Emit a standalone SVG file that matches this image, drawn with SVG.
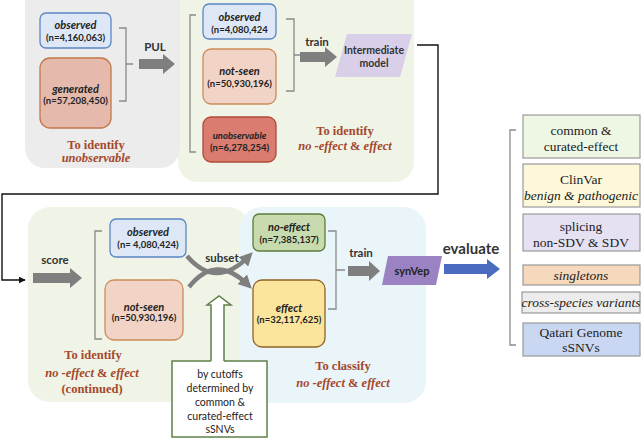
<svg xmlns="http://www.w3.org/2000/svg" width="642" height="438" viewBox="0 0 642 438">
<defs>
<style>
.sans{font-family:Lato,"Liberation Sans",sans-serif;fill:#222;text-anchor:middle}
.t1{font-size:11px;font-weight:bold;font-style:italic}
.t2{font-size:9.5px;font-weight:bold}
.lbl{font-family:Lato,"Liberation Sans",sans-serif;font-size:11.5px;font-weight:bold;fill:#333;text-anchor:middle}
.brown{font-family:"Liberation Serif",serif;font-size:12.5px;font-weight:bold;fill:#a5482c;text-anchor:middle}
.it{font-style:italic}
.rb{font-family:"Liberation Serif",serif;font-size:13.5px;fill:#222;text-anchor:middle}
.brk{fill:none;stroke:#8a8a8a;stroke-width:1.3}
.garrow{fill:#7f7f7f}
.rbox{stroke:#9a9a9a;stroke-width:1.2}
.conn{fill:none;stroke:#111;stroke-width:1.4}
.curve{fill:none;stroke:#7f7f7f;stroke-width:4.5}
</style>
<marker id="ah" viewBox="0 0 10 10" refX="9" refY="5" markerWidth="7" markerHeight="7" markerUnits="userSpaceOnUse" orient="auto"><path d="M0,0 L10,5 L0,10 z" fill="#111"/></marker>
<marker id="gh" viewBox="0 0 10 10" refX="6" refY="5" markerWidth="3" markerHeight="3" orient="auto"><path d="M0,0 L10,5 L0,10 z" fill="#7f7f7f"/></marker>
</defs>

<!-- panels -->
<g id="panels">
<rect x="178" y="-20" width="236" height="202" rx="20" fill="#eff4e7"/>
<rect x="25" y="-20" width="155" height="188" rx="20" fill="#ececec"/>
<rect x="28" y="207" width="222" height="195" rx="22" fill="#eff4e7"/>
<rect x="240" y="207" width="186" height="196" rx="22" fill="#e9f5f9"/>
</g>

<!-- connectors -->
<g id="connectors">
<path class="conn" d="M417,45 H438 V194 H2 V280 H25" marker-end="url(#ah)"/>
<path class="brk" d="M119,28 H126 V101 H119 M126,64 H133"/>
<path class="brk" d="M196,15 H190 V152 H196"/>
<path class="brk" d="M286,19 H294 V91 H286 M294,55 H300"/>
<path class="brk" d="M102,231 H95 V339 H102"/>
<path class="brk" d="M328,231 H336 V309 H328 M336,270 H345"/>
<path class="brk" d="M516,130 H510 V345 H516"/>
<path class="garrow" d="M139,59 H163 V54 L175,64 L163,74 V69 H139 z"/>
<path class="garrow" d="M300,52 H325 V47 L337,57 L325,67 V62 H300 z"/>
<path class="garrow" d="M33,273 H70 V268 L82,278 L70,288 V283 H33 z"/>
<path class="garrow" d="M348,266 H369 V261 L380,271 L369,281 V276 H348 z"/>
<path d="M444,264 H487 V259 L500,269 L487,279 V274 H444 z" fill="#4a6cc0"/>
<path class="curve" d="M187,256 Q216,290 249,256" marker-end="url(#gh)"/>
<path class="curve" d="M189,287 Q216,253 248,285" marker-end="url(#gh)"/>
</g>

<!-- top-left -->
<g id="observed1">
<rect x="40" y="13" width="71" height="35" rx="6" fill="#dde7f6" stroke="#5b87c5" stroke-width="1.3"/>
<text class="sans t1" x="75.5" y="29">observed</text>
<text class="sans t2" x="75.5" y="41">(n=4,160,063)</text>
</g>
<g id="generated">
<rect x="40" y="58" width="71" height="70" rx="10" fill="#e6b9ad" stroke="#c0784a" stroke-width="1.3"/>
<text class="sans t1" x="75.5" y="93">generated</text>
<text class="sans t2" x="75.5" y="104">(n=57,208,450)</text>
</g>
<g id="label-pul"><text class="lbl" x="155" y="51">PUL</text></g>
<g id="label-unobs">
<text class="brown" x="96" y="149">To identify</text>
<text class="brown it" x="96" y="162">unobservable</text>
</g>

<!-- top green -->
<g id="observed2">
<rect x="203" y="4" width="73" height="35" rx="6" fill="#dde7f6" stroke="#5b87c5" stroke-width="1.3"/>
<text class="sans t1" x="239.5" y="21">observed</text>
<text class="sans t2" x="239.5" y="33">(n=4,080,424</text>
</g>
<g id="notseen1">
<rect x="203" y="49" width="73" height="55" rx="8" fill="#f2d4c7" stroke="#cd8a5a" stroke-width="1.3"/>
<text class="sans t1" x="239.5" y="75">not-seen</text>
<text class="sans t2" x="239.5" y="87">(n=50,930,196)</text>
</g>
<g id="unobservable">
<rect x="203" y="117" width="73" height="45" rx="8" fill="#da7c70" stroke="#b04a3a" stroke-width="1.3"/>
<text class="sans" x="239.5" y="139" style="font-size:9.5px;font-weight:bold;font-style:italic">unobservable</text>
<text class="sans t2" x="239.5" y="151">(n=6,278,254)</text>
</g>
<g id="label-train1"><text class="lbl" x="317" y="46">train</text></g>
<g id="intermediate">
<polygon points="347,34 412,34 400,77 335,77" fill="#d9cfe9"/>
<text class="sans" x="374" y="54" style="font-size:10.5px;font-weight:bold;fill:#333">Intermediate</text>
<text class="sans" x="374" y="67" style="font-size:10.5px;font-weight:bold;fill:#333">model</text>
</g>
<g id="label-top-green">
<text class="brown" x="345" y="135">To identify</text>
<text class="brown" x="345" y="150"><tspan class="it">no -effect</tspan> &amp; <tspan class="it">effect</tspan></text>
</g>

<!-- bottom left -->
<g id="label-score"><text class="lbl" x="55" y="264">score</text></g>
<g id="observed3">
<rect x="110" y="219" width="76" height="38" rx="6" fill="#dde7f6" stroke="#5b87c5" stroke-width="1.3"/>
<text class="sans t1" x="148" y="236">observed</text>
<text class="sans t2" x="148" y="248">(n= 4,080,424)</text>
</g>
<g id="notseen2">
<rect x="105" y="280" width="78" height="60" rx="9" fill="#f2d4c7" stroke="#cd8a5a" stroke-width="1.3"/>
<text class="sans t1" x="144" y="311">not-seen</text>
<text class="sans t2" x="144" y="321">(n=50,930,196)</text>
</g>
<g id="label-subset"><text class="lbl" x="222" y="262">subset</text></g>
<g id="cutoffs">
<rect x="172" y="361" width="95" height="76" fill="#fff" stroke="#5e7f4a" stroke-width="1.5"/>
<polygon points="211,362 211,305 207,305 219,296 231,305 224,305 224,362" fill="#fff"/>
<path d="M211,361 V305 H207 L219,296 L231,305 H224 V361" fill="none" stroke="#5e7f4a" stroke-width="1.5"/>
<text class="sans" x="220" y="378" style="font-size:10.5px">by cutoffs</text>
<text class="sans" x="220" y="392" style="font-size:10.5px">determined by</text>
<text class="sans" x="220" y="406" style="font-size:10.5px">common &amp;</text>
<text class="sans" x="220" y="420" style="font-size:10.5px">curated-effect</text>
<text class="sans" x="220" y="433" style="font-size:10.5px">sSNVs</text>
</g>
<g id="label-continued">
<text class="brown" x="93" y="359">To identify</text>
<text class="brown" x="92" y="377"><tspan class="it">no -effect</tspan> &amp; <tspan class="it">effect</tspan></text>
<text class="brown" x="92" y="393">(continued)</text>
</g>

<!-- bottom blue -->
<g id="noeffect">
<rect x="253" y="214" width="72" height="37" rx="6" fill="#c7dbae" stroke="#5d7b3b" stroke-width="1.3"/>
<text class="sans t1" x="289" y="231">no-effect</text>
<text class="sans t2" x="289" y="243">(n=7,385,137)</text>
</g>
<g id="effect">
<rect x="253" y="280" width="72" height="67" rx="9" fill="#fbe49b" stroke="#8f6326" stroke-width="1.3"/>
<text class="sans t1" x="289" y="312">effect</text>
<text class="sans t2" x="289" y="323">(n=32,117,625)</text>
</g>
<g id="label-train2"><text class="lbl" x="361" y="257">train</text></g>
<g id="synvep">
<polygon points="388,256 442,256 436,285 382,285" fill="#9b82c3"/>
<text class="sans" x="412" y="275" style="font-size:11px;font-weight:bold;fill:#222">synVep</text>
</g>
<g id="label-classify">
<text class="brown" x="343" y="370">To classify</text>
<text class="brown" x="343" y="387"><tspan class="it">no -effect</tspan> &amp; <tspan class="it">effect</tspan></text>
</g>
<g id="label-evaluate"><text class="lbl" x="471" y="254" style="font-size:15px">evaluate</text></g>

<!-- right column -->
<g id="common">
<rect class="rbox" x="523" y="115" width="117" height="43" fill="#eef6e4"/>
<text class="rb" x="581" y="135">common &amp;</text>
<text class="rb" x="581" y="151">curated-effect</text>
</g>
<g id="clinvar">
<rect class="rbox" x="523" y="164" width="117" height="43" fill="#fdf8d9"/>
<text class="rb" x="581" y="184">ClinVar</text>
<text class="rb it" x="581" y="200">benign &amp; pathogenic</text>
</g>
<g id="splicing">
<rect class="rbox" x="523" y="214" width="117" height="37" fill="#e6e0f3"/>
<text class="rb" x="581" y="231">splicing</text>
<text class="rb" x="581" y="247">non-SDV &amp; SDV</text>
</g>
<g id="singletons">
<rect class="rbox" x="523" y="265" width="117" height="20" fill="#f6d8bc"/>
<text class="rb it" x="581" y="280">singletons</text>
</g>
<g id="crossspecies">
<rect class="rbox" x="522" y="292" width="118" height="21" fill="#ececec"/>
<text class="rb it" x="581" y="307">cross-species variants</text>
</g>
<g id="qatari">
<rect class="rbox" x="523" y="323" width="117" height="33" fill="#c9d7f2"/>
<text class="rb" x="581" y="337">Qatari Genome</text>
<text class="rb" x="581" y="352">sSNVs</text>
</g>
</svg>
